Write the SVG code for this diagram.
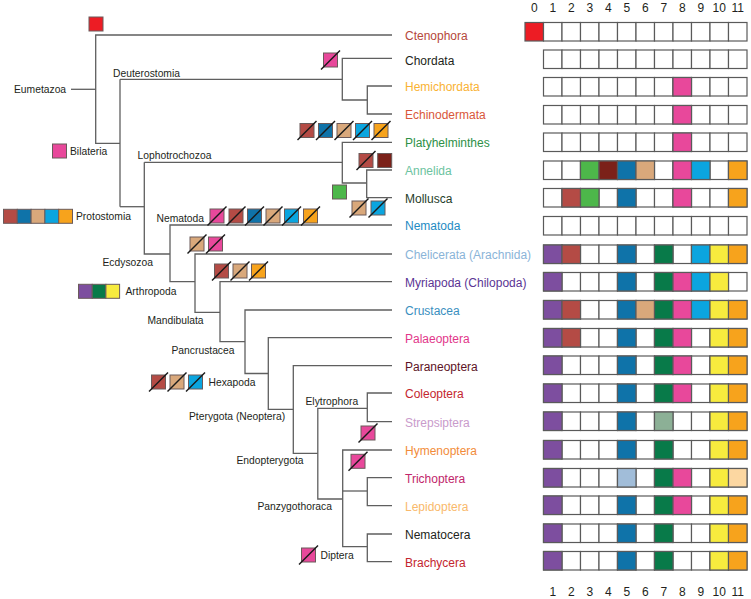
<svg xmlns="http://www.w3.org/2000/svg" xmlns:xlink="http://www.w3.org/1999/xlink" width="751" height="599" viewBox="0 0 751 599">
<style>
text{font-family:"Liberation Sans",Arial,sans-serif}
.tx{font-size:12px}
.nl{font-size:10.3px;fill:#231F20}
.num{font-size:12px;fill:#231F20;text-anchor:middle}
.br{fill:none;stroke:#5f5f5f;stroke-width:1.3}
.cell{fill:#fff;stroke:#5a5a5a;stroke-width:1.2}
.mk{stroke:#6a5a5a;stroke-width:1}
.x{stroke:#1a1a1a;stroke-width:1.5}
.c0{fill:#ED1C24}.c1{fill:#7D4E9F}.c2{fill:#B44B45}.c3{fill:#4DB74A}.c4{fill:#7B2119}.c5{fill:#0F73A9}
.c6{fill:#D9A87B}.c7{fill:#087A49}.c8{fill:#E8489B}.c9{fill:#0BA5DF}.c10{fill:#F7EB3E}.c11{fill:#F7A31C}
.gg{fill:#8CB096}.lb{fill:#A1BDD9}.lo{fill:#FCD7A1}
</style>
<defs>
<g id="row">
<rect class="cell" x="543.5" y="0" width="18.5" height="18.5"/>
<rect class="cell" x="562" y="0" width="18.5" height="18.5"/>
<rect class="cell" x="580.5" y="0" width="18.5" height="18.5"/>
<rect class="cell" x="599" y="0" width="18.5" height="18.5"/>
<rect class="cell" x="617.5" y="0" width="18.5" height="18.5"/>
<rect class="cell" x="636" y="0" width="18.5" height="18.5"/>
<rect class="cell" x="654.5" y="0" width="18.5" height="18.5"/>
<rect class="cell" x="673" y="0" width="18.5" height="18.5"/>
<rect class="cell" x="691.5" y="0" width="18.5" height="18.5"/>
<rect class="cell" x="710" y="0" width="18.5" height="18.5"/>
<rect class="cell" x="728.5" y="0" width="18.5" height="18.5"/>
</g>
</defs>

<g id="connectors">
<path class="br" d="M71 89.3H95.7"/>
<path class="br" d="M392 35H95.7V143.3H120"/>
<path class="br" d="M120 79.3V206.7"/>
<path class="br" d="M120 79.3H342.3"/>
<path class="br" d="M392 58.3H342.3V100H367.3"/>
<path class="br" d="M392 86H367.3V114H392"/>
<path class="br" d="M120 206.7H144.3"/>
<path class="br" d="M144.3 162.3V254H170"/>
<path class="br" d="M144.3 162.3H342.3"/>
<path class="br" d="M392 142.3H342.3V183H366.7"/>
<path class="br" d="M392 170H366.7V197.7H392"/>
<path class="br" d="M392 225H170V281.7H195"/>
<path class="br" d="M392 254H195V312.3H220"/>
<path class="br" d="M392 281.7H220V341.7H245"/>
<path class="br" d="M392 310H245V373.5H268.3"/>
<path class="br" d="M392 337.7H268.3V409.3H293.3"/>
<path class="br" d="M392 365.7H293.3V453.3H317.8"/>
<path class="br" d="M367.3 408.3H317.8V499H342.7"/>
<path class="br" d="M392 393H367.3V421.7H392"/>
<path class="br" d="M392 450H342.7V546.7H367.3"/>
<path class="br" d="M342.7 491H367.3"/>
<path class="br" d="M392 477.7H367.3V505.7H392"/>
<path class="br" d="M392 534H367.3V561.7H392"/>
</g>

<g id="node-labels">
<text class="nl" x="14" y="93">Eumetazoa</text>
<text class="nl" x="113" y="76.5">Deuterostomia</text>
<text class="nl" x="70" y="154.5">Bilateria</text>
<text class="nl" x="137.5" y="159">Lophotrochozoa</text>
<text class="nl" x="76" y="220">Protostomia</text>
<text class="nl" x="156.5" y="222">Nematoda</text>
<text class="nl" x="102.5" y="266">Ecdysozoa</text>
<text class="nl" x="125.5" y="295">Arthropoda</text>
<text class="nl" x="147.5" y="324">Mandibulata</text>
<text class="nl" x="171.5" y="354">Pancrustacea</text>
<text class="nl" x="208.5" y="385.5">Hexapoda</text>
<text class="nl" x="189" y="419.5">Pterygota (Neoptera)</text>
<text class="nl" x="305.5" y="405">Elytrophora</text>
<text class="nl" x="236.5" y="464">Endopterygota</text>
<text class="nl" x="257.5" y="509.5">Panzygothoraca</text>
<text class="nl" x="320.5" y="559">Diptera</text>
</g>

<g id="markers">
<rect class="mk c0" x="89" y="17" width="14" height="14"/>
<g id="m-chordata"><rect class="mk c8" x="323.5" y="53" width="14" height="14"/><line class="x" x1="321" y1="69.5" x2="340" y2="50.5"/></g>
<g id="m-platy">
<rect class="mk c2" x="300" y="123.5" width="14" height="14"/><line class="x" x1="297.5" y1="140" x2="316.5" y2="121"/>
<rect class="mk c5" x="318.5" y="123.5" width="14" height="14"/><line class="x" x1="316" y1="140" x2="335" y2="121"/>
<rect class="mk c6" x="337" y="123.5" width="14" height="14"/><line class="x" x1="334.5" y1="140" x2="353.5" y2="121"/>
<rect class="mk c9" x="355.5" y="123.5" width="14" height="14"/><line class="x" x1="353" y1="140" x2="372" y2="121"/>
<rect class="mk c11" x="374" y="123.5" width="14" height="14"/><line class="x" x1="371.5" y1="140" x2="390.5" y2="121"/>
</g>
<g id="m-annelida">
<rect class="mk c2" x="359" y="153.5" width="14" height="14"/><line class="x" x1="356.5" y1="170" x2="375.5" y2="151"/>
<rect class="mk c4" x="377.7" y="153.5" width="14" height="14"/>
</g>
<rect id="m-green" class="mk c3" x="332.5" y="185" width="14" height="14"/>
<g id="m-mollusca">
<rect class="mk c6" x="352" y="201" width="14" height="14"/><line class="x" x1="349.5" y1="217.5" x2="368.5" y2="198.5"/>
<rect class="mk c9" x="371" y="201" width="14" height="14"/><line class="x" x1="368.5" y1="217.5" x2="387.5" y2="198.5"/>
</g>
<g id="m-nematoda">
<rect class="mk c8" x="210" y="209" width="14" height="14"/><line class="x" x1="207.5" y1="225.5" x2="226.5" y2="206.5"/>
<rect class="mk c2" x="229" y="209" width="14" height="14"/><line class="x" x1="226.5" y1="225.5" x2="245.5" y2="206.5"/>
<rect class="mk c5" x="247.5" y="209" width="14" height="14"/><line class="x" x1="245" y1="225.5" x2="264" y2="206.5"/>
<rect class="mk c6" x="266" y="209" width="14" height="14"/><line class="x" x1="263.5" y1="225.5" x2="282.5" y2="206.5"/>
<rect class="mk c9" x="284.5" y="209" width="14" height="14"/><line class="x" x1="282" y1="225.5" x2="301" y2="206.5"/>
<rect class="mk c11" x="303.5" y="209" width="14" height="14"/><line class="x" x1="301" y1="225.5" x2="320" y2="206.5"/>
</g>
<g id="m-arthro-loss">
<rect class="mk c6" x="190" y="237" width="14" height="14"/><line class="x" x1="187.5" y1="253.5" x2="206.5" y2="234.5"/>
<rect class="mk c8" x="208.5" y="237" width="14" height="14"/><line class="x" x1="206" y1="253.5" x2="225" y2="234.5"/>
</g>
<g id="m-mandib-loss">
<rect class="mk c2" x="214.5" y="264" width="14" height="14"/><line class="x" x1="212" y1="280.5" x2="231" y2="261.5"/>
<rect class="mk c6" x="233" y="264" width="14" height="14"/><line class="x" x1="230.5" y1="280.5" x2="249.5" y2="261.5"/>
<rect class="mk c11" x="251.5" y="264" width="14" height="14"/><line class="x" x1="249" y1="280.5" x2="268" y2="261.5"/>
</g>
<g id="m-arthropoda">
<rect class="mk c1" x="78.5" y="284.3" width="13.7" height="14"/>
<rect class="mk c7" x="92.2" y="284.3" width="13.7" height="14"/>
<rect class="mk c10" x="105.9" y="284.3" width="13.7" height="14"/>
</g>
<g id="m-protostomia">
<rect class="mk c2" x="3.5" y="209.3" width="13.8" height="14"/>
<rect class="mk c5" x="17.3" y="209.3" width="13.8" height="14"/>
<rect class="mk c6" x="31.1" y="209.3" width="13.8" height="14"/>
<rect class="mk c9" x="44.9" y="209.3" width="13.8" height="14"/>
<rect class="mk c11" x="58.7" y="209.3" width="13.8" height="14"/>
</g>
<rect id="m-bilateria" class="mk c8" x="52.5" y="144" width="14" height="14"/>
<g id="m-hexapoda">
<rect class="mk c2" x="151.5" y="375" width="14" height="14"/><line class="x" x1="149" y1="391.5" x2="168" y2="372.5"/>
<rect class="mk c6" x="170" y="375" width="14" height="14"/><line class="x" x1="167.5" y1="391.5" x2="186.5" y2="372.5"/>
<rect class="mk c9" x="188.5" y="375" width="14" height="14"/><line class="x" x1="186" y1="391.5" x2="205" y2="372.5"/>
</g>
<g id="m-strep"><rect class="mk c8" x="361" y="426" width="14" height="14"/><line class="x" x1="358.5" y1="442.5" x2="377.5" y2="423.5"/></g>
<g id="m-hymen"><rect class="mk c8" x="351" y="454.3" width="14" height="14"/><line class="x" x1="348.5" y1="470.8" x2="367.5" y2="451.8"/></g>
<g id="m-diptera"><rect class="mk c8" x="301.5" y="548" width="14" height="14"/><line class="x" x1="299" y1="564.5" x2="318" y2="545.5"/></g>
</g>

<g id="taxa">
<text class="tx" x="405" y="40" fill="#B5473A">Ctenophora</text>
<text class="tx" x="405" y="64.5" fill="#231F20">Chordata</text>
<text class="tx" x="405" y="91" fill="#F9B233">Hemichordata</text>
<text class="tx" x="405" y="119" fill="#D9573A">Echinodermata</text>
<text class="tx" x="405" y="147.3" fill="#2E9046">Platyhelminthes</text>
<text class="tx" x="405" y="175" fill="#6CC3A0">Annelida</text>
<text class="tx" x="405" y="202.7" fill="#1F3D2A">Mollusca</text>
<text class="tx" x="405" y="230" fill="#1E8BC3">Nematoda</text>
<text class="tx" x="405" y="259" fill="#8AB4D8">Chelicerata (Arachnida)</text>
<text class="tx" x="405" y="286.7" fill="#5B3494">Myriapoda (Chilopoda)</text>
<text class="tx" x="405" y="315" fill="#3A8FC0">Crustacea</text>
<text class="tx" x="405" y="342.7" fill="#E2378A">Palaeoptera</text>
<text class="tx" x="405" y="370.7" fill="#5E1326">Paraneoptera</text>
<text class="tx" x="405" y="398" fill="#C4262E">Coleoptera</text>
<text class="tx" x="405" y="426.7" fill="#C99BCB">Strepsiptera</text>
<text class="tx" x="405" y="455" fill="#F28C3A">Hymenoptera</text>
<text class="tx" x="405" y="482.7" fill="#C1266B">Trichoptera</text>
<text class="tx" x="405" y="510.7" fill="#F9B96B">Lepidoptera</text>
<text class="tx" x="405" y="539" fill="#231F20">Nematocera</text>
<text class="tx" x="405" y="566.7" fill="#C4262E">Brachycera</text>
</g>

<g id="numbers-top">
<text class="num" x="534.25" y="11.7">0</text><text class="num" x="552.75" y="11.7">1</text><text class="num" x="571.25" y="11.7">2</text><text class="num" x="589.75" y="11.7">3</text><text class="num" x="608.25" y="11.7">4</text><text class="num" x="626.75" y="11.7">5</text><text class="num" x="645.25" y="11.7">6</text><text class="num" x="663.75" y="11.7">7</text><text class="num" x="682.25" y="11.7">8</text><text class="num" x="700.75" y="11.7">9</text><text class="num" x="719.25" y="11.7">10</text><text class="num" x="737.75" y="11.7">11</text>
</g>
<g id="numbers-bottom">
<text class="num" x="552.75" y="596">1</text><text class="num" x="571.25" y="596">2</text><text class="num" x="589.75" y="596">3</text><text class="num" x="608.25" y="596">4</text><text class="num" x="626.75" y="596">5</text><text class="num" x="645.25" y="596">6</text><text class="num" x="663.75" y="596">7</text><text class="num" x="682.25" y="596">8</text><text class="num" x="700.75" y="596">9</text><text class="num" x="719.25" y="596">10</text><text class="num" x="737.75" y="596">11</text>
</g>

<g id="grid">
<g id="r0"><rect class="cell c0" x="525" y="22.5" width="18.5" height="18.5"/><use xlink:href="#row" y="22.5"/></g>
<g id="r1"><use xlink:href="#row" y="50"/></g>
<g id="r2"><use xlink:href="#row" y="77.5"/><rect class="cell c8" x="673" y="77.5" width="18.5" height="18.5"/></g>
<g id="r3"><use xlink:href="#row" y="105.5"/><rect class="cell c8" x="673" y="105.5" width="18.5" height="18.5"/></g>
<g id="r4"><use xlink:href="#row" y="133"/><rect class="cell c8" x="673" y="133" width="18.5" height="18.5"/></g>
<g id="r5"><use xlink:href="#row" y="161"/>
<rect class="cell c3" x="580.5" y="161" width="18.5" height="18.5"/><rect class="cell c4" x="599" y="161" width="18.5" height="18.5"/><rect class="cell c5" x="617.5" y="161" width="18.5" height="18.5"/><rect class="cell c6" x="636" y="161" width="18.5" height="18.5"/><rect class="cell c8" x="673" y="161" width="18.5" height="18.5"/><rect class="cell c9" x="691.5" y="161" width="18.5" height="18.5"/><rect class="cell c11" x="728.5" y="161" width="18.5" height="18.5"/></g>
<g id="r6"><use xlink:href="#row" y="188.5"/>
<rect class="cell c2" x="562" y="188.5" width="18.5" height="18.5"/><rect class="cell c3" x="580.5" y="188.5" width="18.5" height="18.5"/><rect class="cell c5" x="617.5" y="188.5" width="18.5" height="18.5"/><rect class="cell c8" x="673" y="188.5" width="18.5" height="18.5"/><rect class="cell c11" x="728.5" y="188.5" width="18.5" height="18.5"/></g>
<g id="r7"><use xlink:href="#row" y="216.5"/></g>
<g id="r8"><use xlink:href="#row" y="245"/>
<rect class="cell c1" x="543.5" y="245" width="18.5" height="18.5"/><rect class="cell c2" x="562" y="245" width="18.5" height="18.5"/><rect class="cell c5" x="617.5" y="245" width="18.5" height="18.5"/><rect class="cell c7" x="654.5" y="245" width="18.5" height="18.5"/><rect class="cell c9" x="691.5" y="245" width="18.5" height="18.5"/><rect class="cell c10" x="710" y="245" width="18.5" height="18.5"/><rect class="cell c11" x="728.5" y="245" width="18.5" height="18.5"/></g>
<g id="r9"><use xlink:href="#row" y="272.5"/>
<rect class="cell c1" x="543.5" y="272.5" width="18.5" height="18.5"/><rect class="cell c5" x="617.5" y="272.5" width="18.5" height="18.5"/><rect class="cell c7" x="654.5" y="272.5" width="18.5" height="18.5"/><rect class="cell c8" x="673" y="272.5" width="18.5" height="18.5"/><rect class="cell c9" x="691.5" y="272.5" width="18.5" height="18.5"/><rect class="cell c10" x="710" y="272.5" width="18.5" height="18.5"/></g>
<g id="r10"><use xlink:href="#row" y="300.5"/>
<rect class="cell c1" x="543.5" y="300.5" width="18.5" height="18.5"/><rect class="cell c2" x="562" y="300.5" width="18.5" height="18.5"/><rect class="cell c5" x="617.5" y="300.5" width="18.5" height="18.5"/><rect class="cell c6" x="636" y="300.5" width="18.5" height="18.5"/><rect class="cell c7" x="654.5" y="300.5" width="18.5" height="18.5"/><rect class="cell c8" x="673" y="300.5" width="18.5" height="18.5"/><rect class="cell c9" x="691.5" y="300.5" width="18.5" height="18.5"/><rect class="cell c10" x="710" y="300.5" width="18.5" height="18.5"/><rect class="cell c11" x="728.5" y="300.5" width="18.5" height="18.5"/></g>
<g id="r11"><use xlink:href="#row" y="328.5"/>
<rect class="cell c1" x="543.5" y="328.5" width="18.5" height="18.5"/><rect class="cell c2" x="562" y="328.5" width="18.5" height="18.5"/><rect class="cell c5" x="617.5" y="328.5" width="18.5" height="18.5"/><rect class="cell c7" x="654.5" y="328.5" width="18.5" height="18.5"/><rect class="cell c8" x="673" y="328.5" width="18.5" height="18.5"/><rect class="cell c10" x="710" y="328.5" width="18.5" height="18.5"/><rect class="cell c11" x="728.5" y="328.5" width="18.5" height="18.5"/></g>
<g id="r12"><use xlink:href="#row" y="356"/>
<rect class="cell c1" x="543.5" y="356" width="18.5" height="18.5"/><rect class="cell c5" x="617.5" y="356" width="18.5" height="18.5"/><rect class="cell c7" x="654.5" y="356" width="18.5" height="18.5"/><rect class="cell c8" x="673" y="356" width="18.5" height="18.5"/><rect class="cell c10" x="710" y="356" width="18.5" height="18.5"/><rect class="cell c11" x="728.5" y="356" width="18.5" height="18.5"/></g>
<g id="r13"><use xlink:href="#row" y="384"/>
<rect class="cell c1" x="543.5" y="384" width="18.5" height="18.5"/><rect class="cell c5" x="617.5" y="384" width="18.5" height="18.5"/><rect class="cell c7" x="654.5" y="384" width="18.5" height="18.5"/><rect class="cell c8" x="673" y="384" width="18.5" height="18.5"/><rect class="cell c10" x="710" y="384" width="18.5" height="18.5"/><rect class="cell c11" x="728.5" y="384" width="18.5" height="18.5"/></g>
<g id="r14"><use xlink:href="#row" y="412"/>
<rect class="cell c1" x="543.5" y="412" width="18.5" height="18.5"/><rect class="cell c5" x="617.5" y="412" width="18.5" height="18.5"/><rect class="cell gg" x="654.5" y="412" width="18.5" height="18.5"/><rect class="cell c10" x="710" y="412" width="18.5" height="18.5"/><rect class="cell c11" x="728.5" y="412" width="18.5" height="18.5"/></g>
<g id="r15"><use xlink:href="#row" y="440.5"/>
<rect class="cell c1" x="543.5" y="440.5" width="18.5" height="18.5"/><rect class="cell c5" x="617.5" y="440.5" width="18.5" height="18.5"/><rect class="cell c7" x="654.5" y="440.5" width="18.5" height="18.5"/><rect class="cell c10" x="710" y="440.5" width="18.5" height="18.5"/><rect class="cell c11" x="728.5" y="440.5" width="18.5" height="18.5"/></g>
<g id="r16"><use xlink:href="#row" y="468.5"/>
<rect class="cell c1" x="543.5" y="468.5" width="18.5" height="18.5"/><rect class="cell lb" x="617.5" y="468.5" width="18.5" height="18.5"/><rect class="cell c7" x="654.5" y="468.5" width="18.5" height="18.5"/><rect class="cell c8" x="673" y="468.5" width="18.5" height="18.5"/><rect class="cell c10" x="710" y="468.5" width="18.5" height="18.5"/><rect class="cell lo" x="728.5" y="468.5" width="18.5" height="18.5"/></g>
<g id="r17"><use xlink:href="#row" y="496"/>
<rect class="cell c1" x="543.5" y="496" width="18.5" height="18.5"/><rect class="cell c5" x="617.5" y="496" width="18.5" height="18.5"/><rect class="cell c7" x="654.5" y="496" width="18.5" height="18.5"/><rect class="cell c8" x="673" y="496" width="18.5" height="18.5"/><rect class="cell c10" x="710" y="496" width="18.5" height="18.5"/><rect class="cell c11" x="728.5" y="496" width="18.5" height="18.5"/></g>
<g id="r18"><use xlink:href="#row" y="524"/>
<rect class="cell c1" x="543.5" y="524" width="18.5" height="18.5"/><rect class="cell c5" x="617.5" y="524" width="18.5" height="18.5"/><rect class="cell c7" x="654.5" y="524" width="18.5" height="18.5"/><rect class="cell c10" x="710" y="524" width="18.5" height="18.5"/><rect class="cell c11" x="728.5" y="524" width="18.5" height="18.5"/></g>
<g id="r19"><use xlink:href="#row" y="551.5"/>
<rect class="cell c1" x="543.5" y="551.5" width="18.5" height="18.5"/><rect class="cell c5" x="617.5" y="551.5" width="18.5" height="18.5"/><rect class="cell c7" x="654.5" y="551.5" width="18.5" height="18.5"/><rect class="cell c10" x="710" y="551.5" width="18.5" height="18.5"/><rect class="cell c11" x="728.5" y="551.5" width="18.5" height="18.5"/></g>
</g>
</svg>
